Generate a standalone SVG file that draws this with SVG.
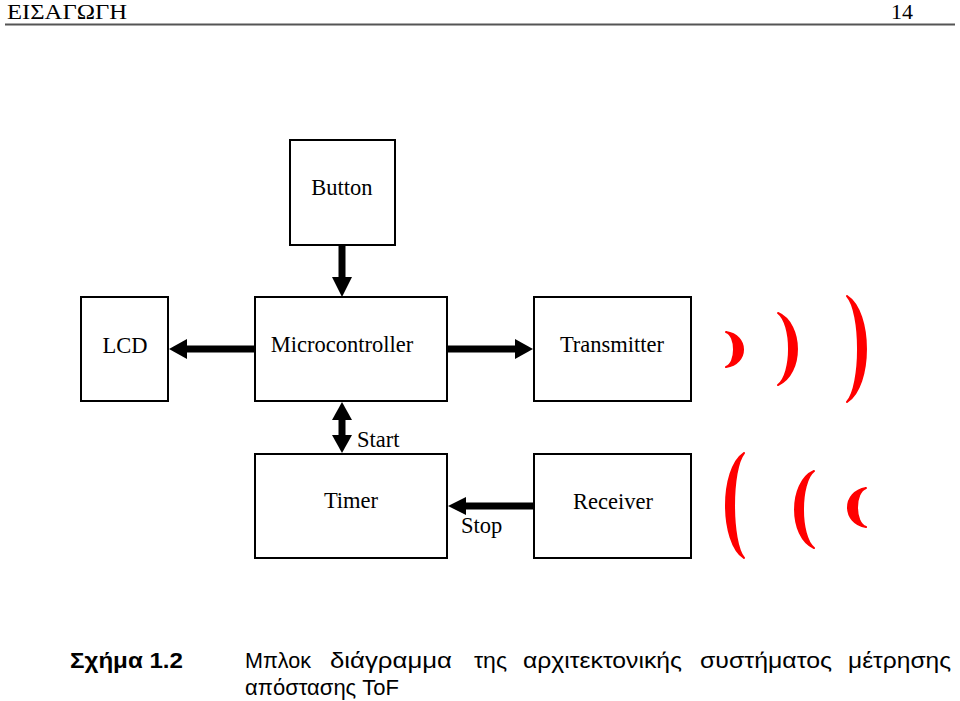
<svg xmlns="http://www.w3.org/2000/svg" width="960" height="701" viewBox="0 0 960 701">
<style>
  .box { fill: #fff; stroke: #000; stroke-width: 2; }
  .lbl { font-family: "Liberation Serif", "Times New Roman", serif; font-size: 22.5px; fill: #000; text-anchor: middle; }
  .note { font-family: "Liberation Serif", "Times New Roman", serif; font-size: 22.5px; fill: #000; }
  .shaft { stroke: #000; stroke-width: 7; fill: none; }
  .head { fill: #000; }
  .wave { fill: #f00; stroke: #f00; stroke-width: 2; stroke-linejoin: round; }
  .cap { font-family: "Liberation Sans", Arial, sans-serif; font-size: 22px; fill: #000; }
</style>
<rect width="960" height="701" fill="#fff"/>

<g id="header">
  <text x="7" y="19" font-family="Liberation Serif, serif" font-size="22" textLength="120" lengthAdjust="spacingAndGlyphs">ΕΙΣΑΓΩΓΗ</text>
  <text x="891" y="19" font-family="Liberation Serif, serif" font-size="22">14</text>
  <line x1="5" y1="24.5" x2="955" y2="24.5" stroke="#555" stroke-width="2.2"/>
</g>

<g id="button">
  <rect class="box" x="290" y="140" width="105" height="105"/>
  <text class="lbl" x="342" y="195">Button</text>
</g>
<g id="lcd">
  <rect class="box" x="81" y="297" width="87" height="104"/>
  <text class="lbl" x="125" y="353">LCD</text>
</g>
<g id="microcontroller">
  <rect class="box" x="255" y="297" width="192" height="104"/>
  <text class="lbl" x="342" y="352">Microcontroller</text>
</g>
<g id="transmitter">
  <rect class="box" x="534" y="297" width="157" height="104"/>
  <text class="lbl" x="612" y="352">Transmitter</text>
</g>
<g id="timer">
  <rect class="box" x="255" y="454" width="192" height="104"/>
  <text class="lbl" x="351" y="508">Timer</text>
</g>
<g id="receiver">
  <rect class="box" x="534" y="454" width="157" height="104"/>
  <text class="lbl" x="613" y="509">Receiver</text>
</g>

<g id="connectors">
  <!-- Button -> Microcontroller -->
  <line class="shaft" x1="342" y1="246" x2="342" y2="279"/>
  <polygon class="head" points="332,277 352,277 342,297"/>
  <!-- Microcontroller -> LCD -->
  <line class="shaft" x1="254" y1="349" x2="185" y2="349"/>
  <polygon class="head" points="187,339 187,359 169,349"/>
  <!-- Microcontroller -> Transmitter -->
  <line class="shaft" x1="448" y1="349" x2="517" y2="349"/>
  <polygon class="head" points="515,339 515,359 533,349"/>
  <!-- Start: Microcontroller <-> Timer -->
  <line class="shaft" x1="342" y1="418" x2="342" y2="437"/>
  <polygon class="head" points="342,402 332,420 352,420"/>
  <polygon class="head" points="342,453 332,435 352,435"/>
  <text class="note" x="357" y="447">Start</text>
  <!-- Stop: Receiver -> Timer -->
  <line class="shaft" x1="533" y1="506" x2="463" y2="506"/>
  <polygon class="head" points="466,497 466,515 448,506"/>
  <text class="note" x="461" y="533">Stop</text>
</g>

<g id="waves-out">
  <path class="wave" d="M726,332 C748.7,335.5 748.7,363.5 726,367 C736.7,363.5 736.7,335.5 726,332 Z"/>
  <path class="wave" d="M778,313 C803.3,324 803.3,374 778,385 C792.7,374 792.7,324 778,313 Z"/>
  <path class="wave" d="M847,296 C872.3,312 872.3,386 847,402 C861.7,386 861.7,312 847,296 Z"/>
</g>
<g id="waves-in">
  <path class="wave" d="M744,453 C720,469 720,542 744,558 C730.7,542 730.7,469 744,453 Z"/>
  <path class="wave" d="M814,471 C788.7,482 788.7,537 814,548 C799.3,537 799.3,482 814,471 Z"/>
  <path class="wave" d="M866,488 C842,492 842,523 866,527 C854,523 854,492 866,488 Z"/>
</g>

<g id="caption">
  <text class="cap" x="70" y="668" font-weight="bold" textLength="113" lengthAdjust="spacingAndGlyphs">Σχήμα 1.2</text>
  <text class="cap" x="245" y="668" textLength="66" lengthAdjust="spacingAndGlyphs">Μπλοκ</text>
  <text class="cap" x="330" y="668" textLength="122" lengthAdjust="spacingAndGlyphs">διάγραμμα</text>
  <text class="cap" x="474" y="668" textLength="33" lengthAdjust="spacingAndGlyphs">της</text>
  <text class="cap" x="523" y="668" textLength="159" lengthAdjust="spacingAndGlyphs">αρχιτεκτονικής</text>
  <text class="cap" x="700" y="668" textLength="132" lengthAdjust="spacingAndGlyphs">συστήματος</text>
  <text class="cap" x="848" y="668" textLength="103" lengthAdjust="spacingAndGlyphs">μέτρησης</text>
  <text class="cap" x="245" y="695">απόστασης ToF</text>
</g>
</svg>
